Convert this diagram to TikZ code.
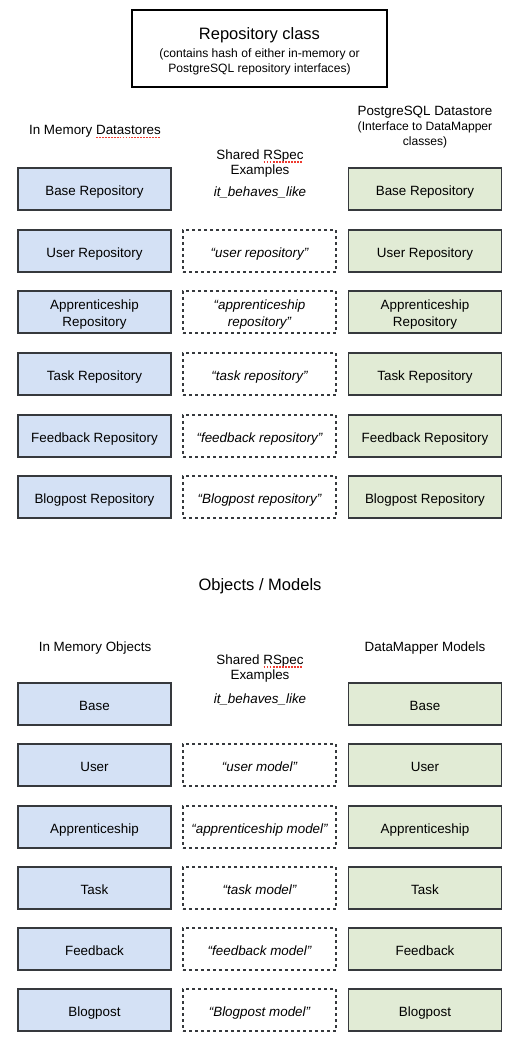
\documentclass[tikz,border=0pt]{standalone}
\usepackage{fontspec}
\setmainfont{Liberation Sans}
\definecolor{memblue}{HTML}{D4E1F5}
\definecolor{pggreen}{HTML}{E1EBD5}
\definecolor{edge}{HTML}{36393D}
\definecolor{spellred}{HTML}{EE3B30}
\newsavebox\spbox
\newcommand\spellmark[1]{\sbox\spbox{#1}\leavevmode\rlap{\usebox\spbox}\raisebox{-3.4pt}{\textcolor{spellred}{\hbox to \wd\spbox{\xleaders\hbox{\rule{1.8pt}{1.3pt}\hskip1.1pt}\hfill}}}}
\tikzset{
  box/.style={draw=edge, line width=1.6pt, minimum width=153pt, minimum height=42pt, inner sep=0pt, align=center,
    text height=16.2pt, text depth=2.8pt, font=\fontsize{13.4}{15}\selectfont},
  twoline/.style={text height=, text depth=, font=\fontsize{13.4}{16.6}\selectfont},
  twolineit/.style={twoline, font=\fontsize{13.4}{16.6}\selectfont\itshape},
  membox/.style={box, fill=memblue},
  pgbox/.style={box, fill=pggreen},
  shared/.style={box, fill=white, line width=1.5pt, dash pattern=on 3pt off 3pt, font=\fontsize{13.4}{15}\selectfont\itshape},
  lbl/.style={inner sep=0pt, align=center, yshift=-2pt, font=\fontsize{13.4}{15.5}\selectfont},
  small/.style={inner sep=0pt, align=center, yshift=-2pt, font=\fontsize{12.1}{15}\selectfont},
  big/.style={inner sep=0pt, align=center, yshift=-2pt, font=\fontsize{16.5}{20}\selectfont}
}
\begin{document}
\begin{tikzpicture}[x=1pt,y=-1pt]
\useasboundingbox[fill=white] (0,0) rectangle (522,1047);
% title box
\node[draw=black, line width=1.6pt, minimum width=255pt, minimum height=77pt, inner sep=0pt] (repo) at (259.5,48.5) {};
\node[big] (repot) at (259.5,33) {Repository class};
\node[small] (repos1) at (259.5,52) {(contains hash of either in-memory or};
\node[small] (repos2) at (259.5,67) {PostgreSQL repository interfaces)};
% headers top
\node[lbl] (hmem) at (95,130) {In Memory \spellmark{Datastores}};
\node[lbl] (hpg1) at (425,110) {PostgreSQL Datastore};
\node[small] (hpg2) at (425,125) {(Interface to DataMapper};
\node[small] (hpg3) at (425,140) {classes)};
\node[lbl] (hsh1) at (260,154) {Shared \spellmark{RSpec}};
\node[lbl] (hsh2) at (260,169) {Examples};
\node[lbl, font=\fontsize{13.4}{15.5}\selectfont\itshape] (hbl) at (260,190) {it\_behaves\_like};
% top rows
\node[membox] (m1) at (94.5,189) {Base Repository};
\node[pgbox] (p1) at (425,189) {Base Repository};
\node[membox] (m2) at (94.5,251) {User Repository};
\node[shared] (s2) at (259.5,251) {“user repository”};
\node[pgbox] (p2) at (425,251) {User Repository};
\node[membox, twoline] (m3) at (94.5,312) {\rule{0pt}{15pt}Apprenticeship\\Repository};
\node[shared, twolineit] (s3) at (259.5,312) {\rule{0pt}{15pt}“apprenticeship\\repository”};
\node[pgbox, twoline] (p3) at (425,312) {\rule{0pt}{15pt}Apprenticeship\\Repository};
\node[membox] (m4) at (94.5,374) {Task Repository};
\node[shared] (s4) at (259.5,374) {“task repository”};
\node[pgbox] (p4) at (425,374) {Task Repository};
\node[membox] (m5) at (94.5,436) {Feedback Repository};
\node[shared] (s5) at (259.5,436) {“feedback repository”};
\node[pgbox] (p5) at (425,436) {Feedback Repository};
\node[membox] (m6) at (94.5,497) {Blogpost Repository};
\node[shared] (s6) at (259.5,497) {“Blogpost repository”};
\node[pgbox] (p6) at (425,497) {Blogpost Repository};
% bottom section
\node[big] (objt) at (260,584) {Objects / Models};
\node[lbl] (bmem) at (95,646) {In Memory Objects};
\node[lbl] (bpg) at (425,646) {DataMapper Models};
\node[lbl] (bsh1) at (260,659) {Shared \spellmark{RSpec}};
\node[lbl] (bsh2) at (260,674) {Examples};
\node[lbl, font=\fontsize{13.4}{15.5}\selectfont\itshape] (bbl) at (260,697) {it\_behaves\_like};
\node[membox] (bm1) at (94.5,704) {Base};
\node[pgbox] (bp1) at (425,704) {Base};
\node[membox] (bm2) at (94.5,765) {User};
\node[shared] (bs2) at (259.5,765) {“user model”};
\node[pgbox] (bp2) at (425,765) {User};
\node[membox] (bm3) at (94.5,827) {Apprenticeship};
\node[shared] (bs3) at (259.5,827) {“apprenticeship model”};
\node[pgbox] (bp3) at (425,827) {Apprenticeship};
\node[membox] (bm4) at (94.5,888) {Task};
\node[shared] (bs4) at (259.5,888) {“task model”};
\node[pgbox] (bp4) at (425,888) {Task};
\node[membox] (bm5) at (94.5,949) {Feedback};
\node[shared] (bs5) at (259.5,949) {“feedback model”};
\node[pgbox] (bp5) at (425,949) {Feedback};
\node[membox] (bm6) at (94.5,1010) {Blogpost};
\node[shared] (bs6) at (259.5,1010) {“Blogpost model”};
\node[pgbox] (bp6) at (425,1010) {Blogpost};
\end{tikzpicture}
\end{document}
